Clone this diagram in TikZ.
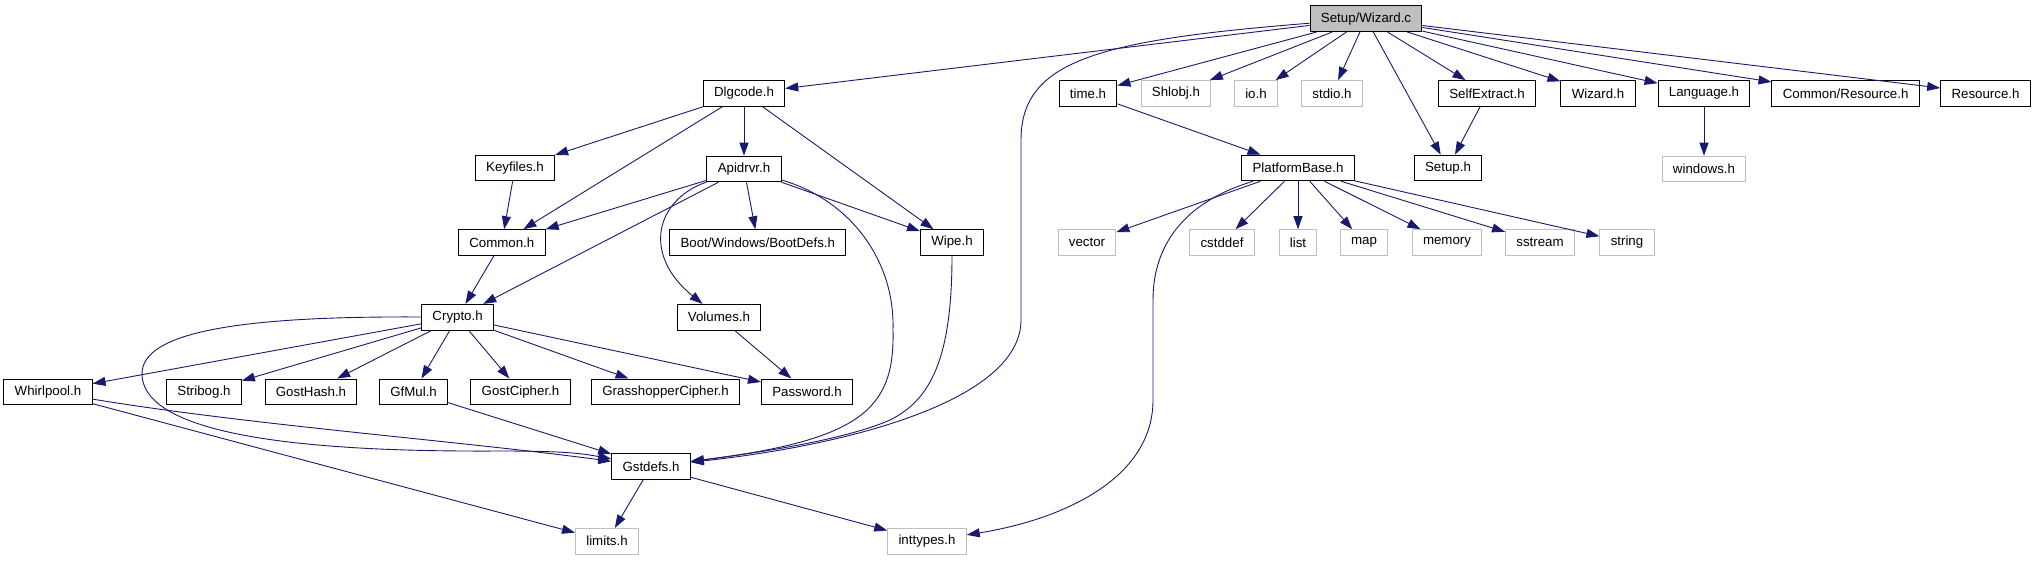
\documentclass[tikz,border=0pt]{standalone}
\usepackage{fontspec}
\setmainfont{Liberation Sans}
\usetikzlibrary{positioning, arrows.meta}
\definecolor{edgeblue}{HTML}{191970}
\definecolor{extgray}{HTML}{BFBFBF}

\begin{document}
\begin{tikzpicture}[
    x=1pt, y=-1pt,
    hdr/.style={draw=black, line width=1pt, rectangle, fill=white, minimum height=25.6pt, inner xsep=10.8pt, inner ysep=0pt, font=\fontsize{13.3}{16}\selectfont},
    sys/.style={hdr, draw=extgray},
    src/.style={hdr, fill=extgray},
    link/.style={->, draw=edgeblue, line width=0.9pt},
    >={Triangle[length=13pt, width=9pt]}
]
  \useasboundingbox (0,0) rectangle (2035,560);

  \node[src] (wiz) at (1366,18.7) {Setup/Wizard.c};

  \node[hdr] (dlg) at (744,93.4) {Dlgcode.h};
  \node[hdr] (time) at (1088,93.4) {time.h};
  \node[sys] (shlobj) at (1176,93.4) {Shlobj.h};
  \node[sys] (io) at (1256,93.4) {io.h};
  \node[sys] (stdio) at (1332,93.4) {stdio.h};
  \node[hdr] (selfx) at (1487,93.4) {SelfExtract.h};
  \node[hdr] (wizh) at (1598,93.4) {Wizard.h};
  \node[hdr] (lang) at (1704,93.4) {Language.h};
  \node[hdr] (cres) at (1845.6,93.4) {Common/Resource.h};
  \node[hdr] (res) at (1985.5,93.4) {Resource.h};

  \node[hdr] (keyf) at (515,168) {Keyfiles.h};
  \node[hdr, below=49pt of dlg] (apid) {Apidrvr.h};
  \node[hdr] (plat) at (1298,168) {PlatformBase.h};
  \node[hdr] (setuph) at (1448,168) {Setup.h};
  \node[sys, below=49pt of lang] (win) {windows.h};

  \node[hdr] (common) at (501.8,242.5) {Common.h};
  \node[hdr] (boot) at (757.8,242.5) {Boot/Windows/BootDefs.h};
  \node[hdr] (wipe) at (952,242.5) {Wipe.h};
  \node[sys] (vector) at (1087,242.5) {vector};
  \node[sys] (cstddef) at (1222,242.5) {cstddef};
  \node[sys] (list) at (1298,242.5) {list};
  \node[sys] (map) at (1364,242.5) {map};
  \node[sys] (memory) at (1447,242.5) {memory};
  \node[sys] (sstream) at (1540,242.5) {sstream};
  \node[sys] (string) at (1627,242.5) {string};

  \node[hdr] (crypto) at (457.6,317.2) {Crypto.h};
  \node[hdr] (volumes) at (719,317.2) {Volumes.h};

  \node[hdr] (whirl) at (48,391.8) {Whirlpool.h};
  \node[hdr] (stribog) at (204,391.8) {Stribog.h};
  \node[hdr] (gosthash) at (311,391.8) {GostHash.h};
  \node[hdr] (gfmul) at (413.6,391.8) {GfMul.h};
  \node[hdr] (gostc) at (520.5,391.8) {GostCipher.h};
  \node[hdr] (grass) at (665.6,391.8) {GrasshopperCipher.h};
  \node[hdr] (passw) at (807,391.8) {Password.h};

  \node[hdr] (gstdefs) at (651,466.5) {Gstdefs.h};
  \node[sys] (limits) at (607,541.2) {limits.h};
  \node[sys] (inttypes) at (927,541.2) {inttypes.h};

  \draw[link] (wiz) -- (dlg);
  \draw[link] (wiz) .. controls (1100,40) and (1021,60) .. (1021,140) -- (1021,320) .. controls (1021,400) and (850,445) .. (gstdefs);
  \draw[link] (wiz) -- (time);
  \draw[link] (wiz) -- (shlobj);
  \draw[link] (wiz) -- (io);
  \draw[link] (wiz) -- (stdio);
  \draw[link] (wiz) -- (setuph);
  \draw[link] (wiz) -- (selfx);
  \draw[link] (wiz) -- (wizh);
  \draw[link] (wiz) -- (lang);
  \draw[link] (wiz) -- (cres);
  \draw[link] (wiz) -- (res);

  \draw[link] (dlg) -- (keyf);
  \draw[link] (dlg) -- (common);
  \draw[link] (dlg) -- (apid);
  \draw[link] (dlg) -- (wipe);
  \draw[link] (keyf) -- (common);

  \draw[link] (apid) -- (common);
  \draw[link] (apid) -- (crypto);
  \draw[link] (apid) -- (boot);
  \draw[link] (apid) -- (wipe);
  \draw[link] (apid) .. controls (655,200) and (642,255) .. (volumes);
  \draw[link] (apid) .. controls (850,200) and (895,260) .. (893,330) .. controls (895,410) and (860,440) .. (gstdefs);

  \draw[link] (common) -- (crypto);
  \draw[link] (wipe) .. controls (952,360) and (930,400) .. (890,420) .. controls (840,442) and (740,455) .. (gstdefs);

  \draw[link] (crypto) -- (whirl);
  \draw[link] (crypto) -- (stribog);
  \draw[link] (crypto) -- (gosthash);
  \draw[link] (crypto) -- (gfmul);
  \draw[link] (crypto) -- (gostc);
  \draw[link] (crypto) -- (grass);
  \draw[link] (crypto) -- (passw);
  \draw[link] (crypto) .. controls (250,316) and (140,330) .. (142,375) .. controls (145,440) and (330,452) .. (500,451) .. controls (560,451) and (580,453) .. (gstdefs);
  \draw[link] (volumes) -- (passw);

  \draw[link] (whirl) .. controls (250,425) and (450,440) .. (gstdefs);
  \draw[link] (whirl) -- (limits);
  \draw[link] (gfmul) -- (gstdefs);
  \draw[link] (gstdefs) -- (limits);
  \draw[link] (gstdefs) -- (inttypes);

  \draw[link] (time) -- (plat);
  \draw[link] (plat) -- (vector);
  \draw[link] (plat) -- (cstddef);
  \draw[link] (plat) -- (list);
  \draw[link] (plat) -- (map);
  \draw[link] (plat) -- (memory);
  \draw[link] (plat) -- (sstream);
  \draw[link] (plat) -- (string);
  \draw[link] (plat) .. controls (1190,200) and (1153,240) .. (1153,300) -- (1153,400) .. controls (1153,480) and (1060,520) .. (inttypes);

  \draw[link] (selfx) -- (setuph);
  \draw[link] (lang) -- (win);
\end{tikzpicture}
\end{document}
